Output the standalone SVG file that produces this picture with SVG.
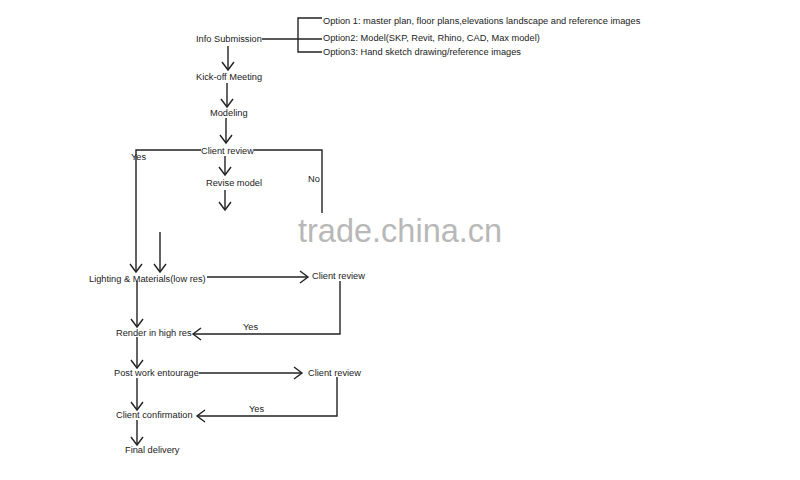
<svg xmlns="http://www.w3.org/2000/svg" width="800" height="480" viewBox="0 0 800 480">
<style>
text{font-family:"Liberation Sans",Arial,sans-serif;font-size:9.25px;fill:#222}
.c{fill:none;stroke:#222;stroke-width:1.4}
.wm{font-family:"Liberation Sans",Arial,sans-serif;font-size:32.5px;fill:#b8b8b8}
</style>
<defs>
<marker id="a" markerUnits="userSpaceOnUse" markerWidth="12" markerHeight="14" refX="9" refY="7" orient="auto">
<path d="M1,1 L9,7 L1,13" fill="none" stroke="#222" stroke-width="1.4"/>
</marker>
</defs>
<rect width="800" height="480" fill="#fff"/>
<g id="connectors">
<path class="c" d="M262,39 H322"/>
<path class="c" d="M322,18 H298 V52 H322"/>
<path class="c" d="M228,46 V70" marker-end="url(#a)"/>
<path class="c" d="M227,83 V107" marker-end="url(#a)"/>
<path class="c" d="M226,118 V143" marker-end="url(#a)"/>
<path class="c" d="M201,150 H136 V272" marker-end="url(#a)"/>
<path class="c" d="M254,150 H322 V213"/>
<path class="c" d="M225,156 V175" marker-end="url(#a)"/>
<path class="c" d="M225,190 V210" marker-end="url(#a)"/>
<path class="c" d="M160,232 V272" marker-end="url(#a)"/>
<path class="c" d="M207,277 H308" marker-end="url(#a)"/>
<path class="c" d="M340,281 V334 H193" marker-end="url(#a)"/>
<path class="c" d="M137,281 V327" marker-end="url(#a)"/>
<path class="c" d="M137,337 V368" marker-end="url(#a)"/>
<path class="c" d="M199,373 H302" marker-end="url(#a)"/>
<path class="c" d="M337,377 V416 H197" marker-end="url(#a)"/>
<path class="c" d="M137,378 V410" marker-end="url(#a)"/>
<path class="c" d="M137,420 V445" marker-end="url(#a)"/>
</g>
<g id="info"><text x="196" y="42">Info Submission</text></g>
<g id="opt1"><text x="323" y="24">Option 1: master plan, floor plans,elevations landscape and reference images</text></g>
<g id="opt2"><text x="323" y="41">Option2: Model(SKP,  Revit, Rhino, CAD, Max model)</text></g>
<g id="opt3"><text x="323" y="55">Option3: Hand sketch drawing/reference images</text></g>
<g id="kickoff"><text x="196" y="80">Kick-off Meeting</text></g>
<g id="modeling"><text x="210" y="116">Modeling</text></g>
<g id="review1"><text x="201" y="154">Client review</text></g>
<g id="yes1"><text x="131" y="160">Yes</text></g>
<g id="no1"><text x="308" y="182">No</text></g>
<g id="revise"><text x="206" y="186">Revise model</text></g>
<g id="lighting"><text x="89" y="282">Lighting &amp; Materials(low res)</text></g>
<g id="review2"><text x="312" y="279">Client review</text></g>
<g id="yes2"><text x="243" y="330">Yes</text></g>
<g id="render"><text x="116" y="336">Render in high res</text></g>
<g id="post"><text x="114" y="376">Post work entourage</text></g>
<g id="review3"><text x="308" y="376">Client review</text></g>
<g id="yes3"><text x="249" y="412">Yes</text></g>
<g id="confirm"><text x="116" y="418">Client confirmation</text></g>
<g id="final"><text x="125" y="453">Final delivery</text></g>
<text class="wm" x="298" y="242">trade.china.cn</text>
</svg>
